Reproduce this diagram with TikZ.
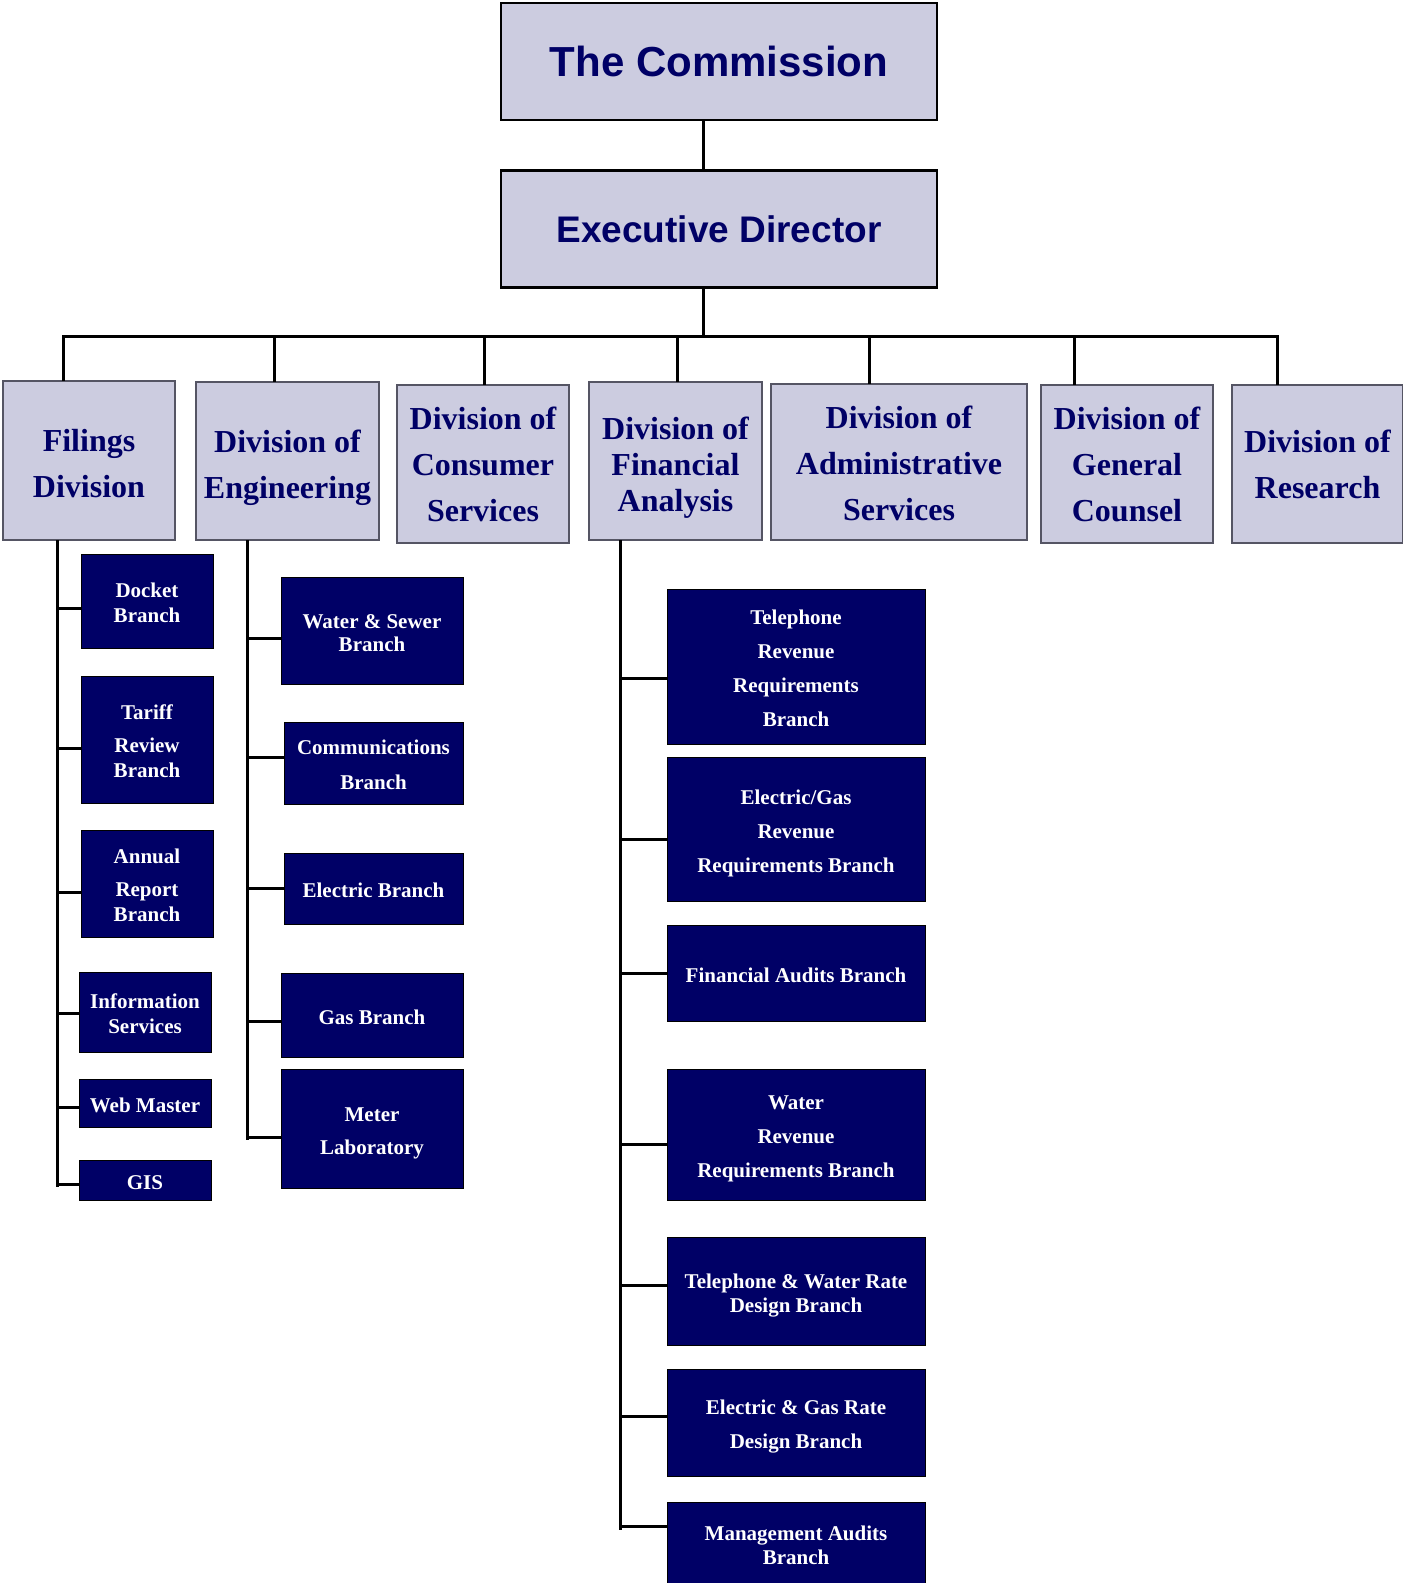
\documentclass[tikz,border=0pt]{standalone}
\usepackage{fontspec}
\setmainfont{Liberation Serif}
\newfontfamily\sansfam{Liberation Sans}
\usetikzlibrary{calc}
\definecolor{lav}{RGB}{204,204,224}
\definecolor{navy}{RGB}{0,0,102}
\definecolor{divgray}{RGB}{85,85,100}
\newcommand\dvst[1]{\rule{0pt}{#1pt}}
\newcommand\brst{\rule{0pt}{26pt}}
\tikzset{
  topbox/.style={draw=black, line width=2.5pt, fill=lav, inner sep=0pt, outer sep=0pt, text=navy},
  divbox/.style={draw=divgray, line width=1.2pt, fill=lav, inner sep=0pt, outer sep=0pt, align=center, text=navy,
    font=\fontsize{32}{46}\selectfont\bfseries,
    execute at end node={\rule[-9pt]{0pt}{9pt}}},
  brbox/.style={draw=black, line width=0.8pt, fill=navy, inner sep=0pt, outer sep=0pt, align=center, text=white,
    font=\fontsize{21}{25}\selectfont\bfseries,
    execute at end node={\rule[-8pt]{0pt}{8pt}}},
  conn/.style={draw=black, line width=3pt}
}
\begin{document}
\begin{tikzpicture}[x=1pt,y=-1pt]
\useasboundingbox (0,0) rectangle (1403,1583);
% top boxes
\node[topbox, minimum width=436pt, minimum height=117pt, font=\sansfam\fontsize{42}{50}\selectfont\bfseries] (comm) at (719,61.5) {The Commission};
\node[topbox, minimum width=436pt, minimum height=117pt, font=\sansfam\fontsize{37}{44}\selectfont\bfseries] (exec) at (719,229) {Executive Director};
% divisions
\node[divbox, minimum width=172pt, minimum height=159pt] (fil) at (89,460.5) {\dvst{36}Filings\\Division};
\node[divbox, minimum width=183pt, minimum height=158pt] (eng) at (287.5,461) {\dvst{37}Division of\\Engineering};
\node[divbox, minimum width=172pt, minimum height=158pt] (con) at (483,464) {\dvst{32}Division of\\Consumer\\Services};
\node[divbox, minimum width=173pt, minimum height=158pt, font=\fontsize{32}{36}\selectfont\bfseries] (fin) at (675.5,461) {\dvst{37}Division of\\Financial\\Analysis};
\node[divbox, minimum width=256pt, minimum height=156pt] (adm) at (899,462) {\dvst{33}Division of\\Administrative\\Services};
\node[divbox, minimum width=172pt, minimum height=158pt] (gc) at (1127,464) {\dvst{32}Division of\\General\\Counsel};
\node[divbox, minimum width=171pt, minimum height=158pt] (res) at (1317.5,464) {\dvst{32}Division of\\Research};
% connectors top
\coordinate (bus) at (703,336);
\coordinate (d1) at (63,336);
\coordinate (d2) at (274,336);
\coordinate (d3) at (484,336);
\coordinate (d4) at (677,336);
\coordinate (d5) at (869,336);
\coordinate (d6) at (1074,336);
\coordinate (d7) at (1277,336);
\draw[conn] (comm.south -| bus) -- (exec.north -| bus);
\draw[conn] (exec.south -| bus) -- (bus);
\draw[conn] (d1 |- fil.north) -- (d1) -- (d7) -- (d7 |- res.north);
\draw[conn] (d2) -- (d2 |- eng.north);
\draw[conn] (d3) -- (d3 |- con.north);
\draw[conn] (d4) -- (d4 |- fin.north);
\draw[conn] (d5) -- (d5 |- adm.north);
\draw[conn] (d6) -- (d6 |- gc.north);
% filings branches
\node[brbox, minimum width=132pt, minimum height=94pt] (docket) at (147,601) {\brst Docket\\Branch};
\node[brbox, minimum width=132pt, minimum height=127pt] (tariff) at (147,739.5) {\brst Tariff\\[8pt]Review\\Branch};
\node[brbox, minimum width=132pt, minimum height=107pt] (annual) at (147,883.5) {\brst Annual\\[8pt]Report\\Branch};
\node[brbox, minimum width=132pt, minimum height=80pt] (info) at (145,1012) {\brst Information\\Services};
\node[brbox, minimum width=132pt, minimum height=48pt] (web) at (145,1103) {\brst Web Master};
\node[brbox, minimum width=132pt, minimum height=40pt] (gis) at (145,1180) {\brst GIS};
\coordinate (fend) at (57,1187);
\draw[conn] (fend |- fil.south) -- (fend);
\draw[conn] ($(docket.west)+(0,7)$) -- ($(fend |- docket.west)+(0,7)$);
\draw[conn] ($(tariff.west)+(0,8.5)$) -- ($(fend |- tariff.west)+(0,8.5)$);
\draw[conn] ($(annual.west)+(0,8.5)$) -- ($(fend |- annual.west)+(0,8.5)$);
\draw[conn] ($(info.west)+(0,1)$) -- ($(fend |- info.west)+(0,1)$);
\draw[conn] ($(web.west)+(0,4)$) -- ($(fend |- web.west)+(0,4)$);
\draw[conn] ($(gis.west)+(0,4)$) -- ($(fend |- gis.west)+(0,4)$);
% engineering branches
\node[brbox, minimum width=182pt, minimum height=107pt] (ws) at (372,630.5) {\brst Water \& Sewer\\[-2pt]Branch};
\node[brbox, minimum width=179pt, minimum height=82pt] (comms) at (373.5,763) {\brst Communications\\[10pt]Branch};
\node[brbox, minimum width=179pt, minimum height=71pt] (elec) at (373.5,888.5) {\brst Electric Branch};
\node[brbox, minimum width=182pt, minimum height=84pt] (gas) at (372,1015) {\brst Gas Branch};
\node[brbox, minimum width=182pt, minimum height=119pt] (meter) at (372,1128.5) {\brst Meter\\[8pt]Laboratory};
\coordinate (eend) at (247,1140);
\draw[conn] (eend |- eng.south) -- (eend);
\draw[conn] ($(ws.west)+(0,7.5)$) -- ($(eend |- ws.west)+(0,7.5)$);
\draw[conn] ($(comms.west)+(0,-6)$) -- ($(eend |- comms.west)+(0,-6)$);
\draw[conn] (elec.west) -- (eend |- elec.west);
\draw[conn] ($(gas.west)+(0,6)$) -- ($(eend |- gas.west)+(0,6)$);
\draw[conn] ($(meter.west)+(0,8.5)$) -- ($(eend |- meter.west)+(0,8.5)$);
% financial branches
\node[brbox, minimum width=258pt, minimum height=155pt] (trr) at (796,666.5) {\brst Telephone\\[9pt]Revenue\\[9pt]Requirements\\[9pt]Branch};
\node[brbox, minimum width=258pt, minimum height=144pt] (egrr) at (796,829) {\brst Electric/Gas\\[9pt]Revenue\\[9pt]Requirements Branch};
\node[brbox, minimum width=258pt, minimum height=96pt] (fa) at (796,973) {\brst Financial Audits Branch};
\node[brbox, minimum width=258pt, minimum height=131pt] (wrr) at (796,1134.5) {\brst Water\\[9pt]Revenue\\[9pt]Requirements Branch};
\node[brbox, minimum width=258pt, minimum height=108pt] (twr) at (796,1291) {\brst Telephone \& Water Rate\\[-1pt]Design Branch};
\node[brbox, minimum width=258pt, minimum height=107pt] (egr) at (796,1422.5) {\brst Electric \& Gas Rate\\[9pt]Design Branch};
\node[brbox, minimum width=258pt, minimum height=82pt] (mgmt) at (796,1543) {\brst Management Audits\\[-1pt]Branch};
\coordinate (nend) at (620,1530);
\draw[conn] (nend |- fin.south) -- (nend);
\draw[conn] ($(trr.west)+(0,11.5)$) -- ($(nend |- trr.west)+(0,11.5)$);
\draw[conn] ($(egrr.west)+(0,10)$) -- ($(nend |- egrr.west)+(0,10)$);
\draw[conn] (fa.west) -- (nend |- fa.west);
\draw[conn] ($(wrr.west)+(0,9.5)$) -- ($(nend |- wrr.west)+(0,9.5)$);
\draw[conn] ($(twr.west)+(0,-6)$) -- ($(nend |- twr.west)+(0,-6)$);
\draw[conn] ($(egr.west)+(0,-6.5)$) -- ($(nend |- egr.west)+(0,-6.5)$);
\draw[conn] ($(mgmt.west)+(0,-17)$) -- ($(nend |- mgmt.west)+(0,-17)$);
\end{tikzpicture}
\end{document}
